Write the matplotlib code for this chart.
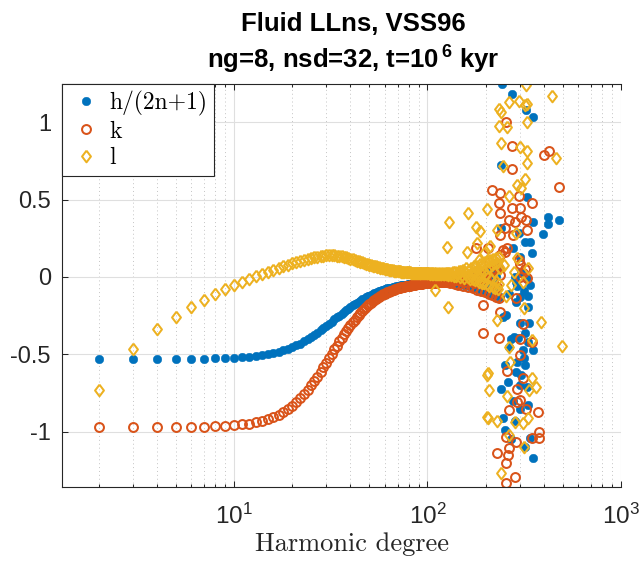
import matplotlib
matplotlib.use("Agg")
import matplotlib.pyplot as plt
from matplotlib.ticker import FixedLocator, NullFormatter

plt.rcParams['mathtext.default'] = 'regular'
plt.rcParams['axes.unicode_minus'] = False

SANS = 'Liberation Sans'
SERIF = 'cmr10'

# ---------------------------------------------------------------- data
# smooth Love-number curves, one value per harmonic degree n = 2..130
smooth_degrees = list(range(2, 131))

h_smooth = [
    -0.530, -0.530, -0.530, -0.529, -0.529, -0.528, -0.526, -0.525, -0.522, -0.519,
    -0.515, -0.511, -0.505, -0.499, -0.492, -0.484, -0.474, -0.465, -0.454, -0.442,
    -0.430, -0.416, -0.403, -0.389, -0.374, -0.360, -0.345, -0.331, -0.316, -0.302,
    -0.288, -0.274, -0.261, -0.249, -0.237, -0.226, -0.214, -0.204, -0.194, -0.184,
    -0.176, -0.167, -0.160, -0.152, -0.145, -0.139, -0.132, -0.126, -0.120, -0.115,
    -0.110, -0.105, -0.101, -0.097, -0.093, -0.089, -0.086, -0.083, -0.080, -0.077,
    -0.074, -0.072, -0.070, -0.068, -0.066, -0.064, -0.062, -0.060, -0.059, -0.057,
    -0.056, -0.054, -0.053, -0.052, -0.051, -0.050, -0.049, -0.048, -0.047, -0.046,
    -0.045, -0.045, -0.044, -0.043, -0.043, -0.042, -0.041, -0.041, -0.040, -0.040,
    -0.039, -0.039, -0.038, -0.038, -0.037, -0.037, -0.037, -0.036, -0.036, -0.035,
    -0.035, -0.035, -0.034, -0.034, -0.034, -0.033, -0.033, -0.033, -0.032, -0.032,
    -0.032, -0.031, -0.031, -0.031, -0.031, -0.030, -0.030, -0.030, -0.030, -0.029,
    -0.030, -0.028, -0.029, -0.027, -0.030, -0.028, -0.026, -0.031, -0.027,
]

k_smooth = [
    -0.970, -0.970, -0.970, -0.969, -0.968, -0.967, -0.965, -0.962, -0.958, -0.953,
    -0.947, -0.939, -0.929, -0.918, -0.905, -0.890, -0.873, -0.853, -0.832, -0.808,
    -0.784, -0.758, -0.730, -0.700, -0.673, -0.643, -0.613, -0.584, -0.554, -0.523,
    -0.495, -0.467, -0.444, -0.416, -0.394, -0.369, -0.349, -0.327, -0.309, -0.290,
    -0.275, -0.259, -0.244, -0.231, -0.217, -0.206, -0.194, -0.184, -0.175, -0.166,
    -0.158, -0.150, -0.143, -0.136, -0.130, -0.124, -0.118, -0.113, -0.108, -0.104,
    -0.099, -0.095, -0.092, -0.088, -0.085, -0.082, -0.079, -0.076, -0.074, -0.072,
    -0.069, -0.067, -0.065, -0.064, -0.062, -0.060, -0.059, -0.057, -0.056, -0.055,
    -0.053, -0.052, -0.051, -0.050, -0.049, -0.048, -0.047, -0.046, -0.046, -0.045,
    -0.044, -0.044, -0.043, -0.042, -0.042, -0.041, -0.041, -0.040, -0.040, -0.039,
    -0.039, -0.038, -0.038, -0.037, -0.037, -0.037, -0.036, -0.036, -0.036, -0.035,
    -0.035, -0.035, -0.034, -0.034, -0.034, -0.033, -0.033, -0.033, -0.033, -0.032,
    -0.033, -0.031, -0.032, -0.030, -0.033, -0.031, -0.029, -0.034, -0.030,
]

l_smooth = [
    -0.730, -0.467, -0.338, -0.256, -0.196, -0.149, -0.110, -0.080, -0.054, -0.032,
    -0.013, 0.004, 0.019, 0.033, 0.046, 0.058, 0.069, 0.079, 0.088, 0.096,
    0.103, 0.110, 0.116, 0.121, 0.126, 0.130, 0.134, 0.137, 0.140, 0.141,
    0.141, 0.140, 0.138, 0.136, 0.133, 0.130, 0.127, 0.123, 0.119, 0.115,
    0.111, 0.106, 0.102, 0.098, 0.094, 0.090, 0.087, 0.083, 0.080, 0.077,
    0.074, 0.071, 0.068, 0.065, 0.062, 0.060, 0.057, 0.055, 0.053, 0.051,
    0.049, 0.047, 0.046, 0.044, 0.043, 0.041, 0.040, 0.039, 0.038, 0.037,
    0.036, 0.035, 0.034, 0.033, 0.033, 0.032, 0.031, 0.031, 0.030, 0.030,
    0.029, 0.029, 0.028, 0.028, 0.028, 0.027, 0.027, 0.027, 0.026, 0.026,
    0.026, 0.025, 0.025, 0.025, 0.025, 0.024, 0.024, 0.024, 0.024, 0.023,
    0.024, 0.022, 0.023, 0.022, 0.024, 0.021, 0.023, 0.022, 0.021, 0.023,
    0.020, 0.022, 0.021, 0.024, 0.019, 0.022, 0.020, 0.023, 0.018, 0.022,
    0.019, 0.024, 0.017, 0.021, 0.023, 0.016, 0.025, 0.018, 0.020,
]

# onset of numerical noise, n = 131..237
h_onset_deg = list(range(131, 237, 3))
h_onset = [
    -0.028, -0.036, -0.022, -0.041, -0.018, -0.045, -0.025, -0.012, -0.052, -0.030,
    -0.006, -0.058, -0.020, 0.002, -0.068, -0.035, 0.010, -0.078, -0.084, 0.018,
    -0.045, -0.092, 0.025, -0.060, 0.034, -0.101, -0.015, 0.042, -0.110, -0.040,
    0.050, -0.120, 0.005, -0.075, 0.060, -0.130,
]
k_onset_deg = list(range(132, 238, 3))
k_onset = [
    -0.035, -0.024, -0.044, -0.019, -0.050, -0.028, -0.010, -0.057, -0.033, -0.004,
    -0.064, -0.022, 0.004, -0.072, -0.040, 0.012, -0.082, -0.015, 0.020, -0.090,
    -0.048, 0.028, -0.098, -0.010, 0.036, -0.108, -0.055, 0.045, -0.118, -0.020,
    0.053, -0.128, -0.065, 0.062, -0.138, 0.010,
]
l_onset_deg = list(range(131, 238, 2))
l_onset = [
    0.026, 0.012, 0.031, 0.009, 0.035, 0.004, 0.028, 0.041, -0.002, 0.036,
    0.015, 0.048, -0.006, 0.030, 0.055, 0.002, 0.044, -0.012, 0.061, 0.020,
    -0.015, 0.068, 0.033, -0.022, 0.074, 0.008, 0.052, -0.030, 0.082, 0.025,
    -0.036, 0.090, 0.041, -0.041, 0.097, 0.010, -0.048, 0.104, 0.060, -0.055,
    0.112, -0.010, 0.075, -0.062, 0.118, 0.030, -0.070, 0.125, -0.028, 0.090,
    -0.078, 0.132, -0.045, 0.060,
]

# scattered values at high degree
h_scatter_deg = [244, 272, 321, 351, 241, 326, 421, 479, 420, 350, 393, 320, 338, 347,
                 278, 297, 241, 283, 325, 305, 290, 315, 340, 265, 300, 300, 285, 330,
                 256, 245, 318, 270, 280, 295, 331, 351, 316, 318, 251, 288, 306, 261,
                 241, 325, 246, 283, 251, 338, 351, 331, 288, 300, 265, 310, 275, 300,
                 330, 270, 320, 300, 290, 335]
h_scatter = [1.245, 1.180, 1.079, 1.032, 0.726, 0.519, 0.390, 0.370, 0.345, 0.355,
             0.280, 0.225, 0.225, 0.153, 0.188, 0.282, 0.314, 0.002, -0.010, 0.030,
             -0.060, -0.090, -0.050, -0.110, -0.130, 0.130, -0.030, -0.120,
             -0.245, -0.256, -0.364, -0.400, -0.390, -0.395, -0.418, -0.472, -0.525,
             -0.568, -0.568, -0.612, -0.633, -0.676, -0.726, -0.709, -0.913, -0.928,
             -0.988, -1.042, -1.171, -0.192, -0.160, -0.300, -0.450, -0.470, -0.800,
             -0.850, -0.830, -1.050, -1.100, -0.700, -0.550, -0.300]

k_scatter_deg = [254, 272, 274, 399, 427, 476, 216, 238, 297, 234, 345, 272, 300, 238,
                 306, 264, 322, 283, 325, 275, 251, 238, 179, 206, 246, 259, 251, 236,
                 208, 297, 302, 318, 311, 300, 325, 130, 288,
                 194, 236, 310, 194, 233, 300, 345, 300, 259, 310, 290, 300, 291, 322,
                 373, 264, 378, 378, 345, 254, 286, 264, 229, 261, 256, 283, 256]
k_scatter = [1.003, 0.846, 0.696, 0.786, 0.815, 0.579, 0.562, 0.541, 0.521, 0.480,
             0.476, 0.444, 0.448, 0.415, 0.390, 0.368, 0.370, 0.355, 0.304, 0.271,
             0.314, 0.271, 0.185, 0.185, 0.174, 0.185, 0.163, 0.142, 0.099, 0.110,
             0.084, 0.050, 0.024, 0.002, -0.009, -0.037, -0.138,
             -0.181, -0.224, -0.304, -0.360, -0.396, -0.402, -0.418, -0.504, -0.605,
             -0.654, -0.725, -0.795, -0.805, -0.855, -0.870, -0.859, -0.999, -1.042,
             -1.042, -1.032, -1.064, -1.107, -1.135, -1.150, -1.204, -1.290, -1.329]

l_scatter_deg = [322, 442, 263, 297, 318, 325, 234, 239, 325, 234, 258, 241, 300, 325,
                 460, 325, 246, 318, 290, 306, 264, 203, 162, 129, 179, 186, 230, 288,
                 126, 160, 180, 210, 196, 185, 109, 128, 250, 270, 290, 310, 280, 255,
                 330, 315, 230, 388, 264, 345, 493, 266, 206, 202, 208, 259, 345, 363,
                 335, 203, 229, 205, 283, 312, 331, 264, 316, 241]
l_scatter = [1.242, 1.169, 1.128, 1.139, 1.111, 1.120, 1.083, 1.068, 1.003, 0.977,
             0.971, 0.868, 0.842, 0.816, 0.771, 0.734, 0.717, 0.631, 0.594, 0.573,
             0.523, 0.437, 0.415, 0.357, 0.325, 0.299, 0.304, 0.286, 0.196, 0.163,
             0.218, 0.202, 0.153, 0.110, -0.084, -0.192, 0.080, -0.050, 0.120, -0.030,
             0.030, -0.120, 0.060, -0.202, -0.278, -0.289, -0.450, -0.407, -0.446,
             -0.547, -0.622, -0.633, -0.730, -0.769, -0.654, -0.713, -0.730, -0.902,
             -0.928, -0.910, -0.935, -0.945, -0.913, -1.021, -1.096, -1.264]

series_labels = ['h/(2n+1)', 'k', 'l']
series_colors = ['#0072BD', '#D95319', '#EDB120']

# ---------------------------------------------------------------- figure
fig = plt.figure(figsize=(6.4, 5.65), dpi=100)
W, H = 640.0, 565.0
ax = fig.add_axes([62 / W, 1 - 487 / H, (621 - 62) / W, (487 - 84) / H])
ax.set_xscale('log')

h_deg = smooth_degrees + h_onset_deg + h_scatter_deg
h_val = h_smooth + h_onset + h_scatter
k_deg = smooth_degrees + k_onset_deg + k_scatter_deg
k_val = k_smooth + k_onset + k_scatter
l_deg = smooth_degrees + l_onset_deg + l_scatter_deg
l_val = l_smooth + l_onset + l_scatter

diamond = [(0, 1), (0.76, 0), (0, -1), (-0.76, 0), (0, 1)]

ax.plot(h_deg, h_val, linestyle='none', marker='o', markersize=6.2,
        markerfacecolor=series_colors[0], markeredgecolor=series_colors[0],
        markeredgewidth=0.3, label=series_labels[0])
ax.plot(k_deg, k_val, linestyle='none', marker='o', markersize=6.4,
        markerfacecolor='none', markeredgecolor=series_colors[1],
        markeredgewidth=1.45, label=series_labels[1])
ax.plot(l_deg, l_val, linestyle='none', marker=diamond, markersize=8.4,
        markerfacecolor='none', markeredgecolor=series_colors[2],
        markeredgewidth=1.45, label=series_labels[2])

ax.set_xlim(1.2917, 1000)
ax.set_ylim(-1.357, 1.247)

# ticks
major_x = [10, 100, 1000]
minor_x = [m * d for d in (1, 10, 100) for m in range(2, 10)]
ax.xaxis.set_major_locator(FixedLocator(major_x))
ax.xaxis.set_minor_locator(FixedLocator(minor_x))
ax.xaxis.set_minor_formatter(NullFormatter())
ax.set_xticklabels([r'$\mathregular{10^{1}}$', r'$\mathregular{10^{2}}$',
                    r'$\mathregular{10^{3}}$'], fontfamily=SANS, fontsize=17.5,
                   color='#262626')
yt = [-1, -0.5, 0, 0.5, 1]
ax.set_yticks(yt)
ax.set_yticklabels(['-1', '-0.5', '0', '0.5', '1'], fontfamily=SANS,
                   fontsize=17, color='#262626')

ax.tick_params(which='major', direction='in', length=4.5, width=0.75,
               color='#262626', top=True, right=False)
ax.tick_params(which='minor', direction='in', length=2.5, width=0.75,
               color='#262626', top=True, right=False)
ax.tick_params(axis='x', which='major', pad=12)
ax.tick_params(axis='y', which='major', pad=8)

# grid
ax.grid(True, which='major', color='#DFDFDF', linewidth=0.8, linestyle='-')
ax.grid(True, which='minor', axis='x', color='#C4C4C4', linewidth=0.7,
        linestyle=(0, (1, 3)))
ax.set_axisbelow(True)

for side in ('left', 'bottom', 'top'):
    ax.spines[side].set_color('#262626')
    ax.spines[side].set_linewidth(0.8)
ax.spines['right'].set_visible(False)

ax.set_xlabel('Harmonic degree', fontfamily=SERIF, fontsize=19, color='#262626')
ax.xaxis.set_label_coords((352 - 62) / (621 - 62), -0.113)

# titles
cx = 353 / W
fig.text(cx, 1 - 31 / H, 'Fluid LLns, VSS96', ha='center', va='baseline',
         fontfamily=SANS, fontweight='bold', fontsize=18.5, color='black')
fig.text(cx, 1 - 69 / H, r'ng=8, nsd=32, t=10$^{\,6}$ kyr', ha='center',
         va='baseline', fontfamily=SANS, fontweight='bold', fontsize=18.5,
         color='black')

leg = ax.legend(loc='upper left', bbox_to_anchor=(0, 1), borderaxespad=0,
                prop={'family': SERIF, 'size': 17}, frameon=True, fancybox=False,
                edgecolor='#262626', framealpha=1, handlelength=1.4,
                handletextpad=0.3, borderpad=0.3, labelspacing=0.18,
                numpoints=1)
leg.get_frame().set_linewidth(0.8)

fig.savefig('out.png', dpi=100)
